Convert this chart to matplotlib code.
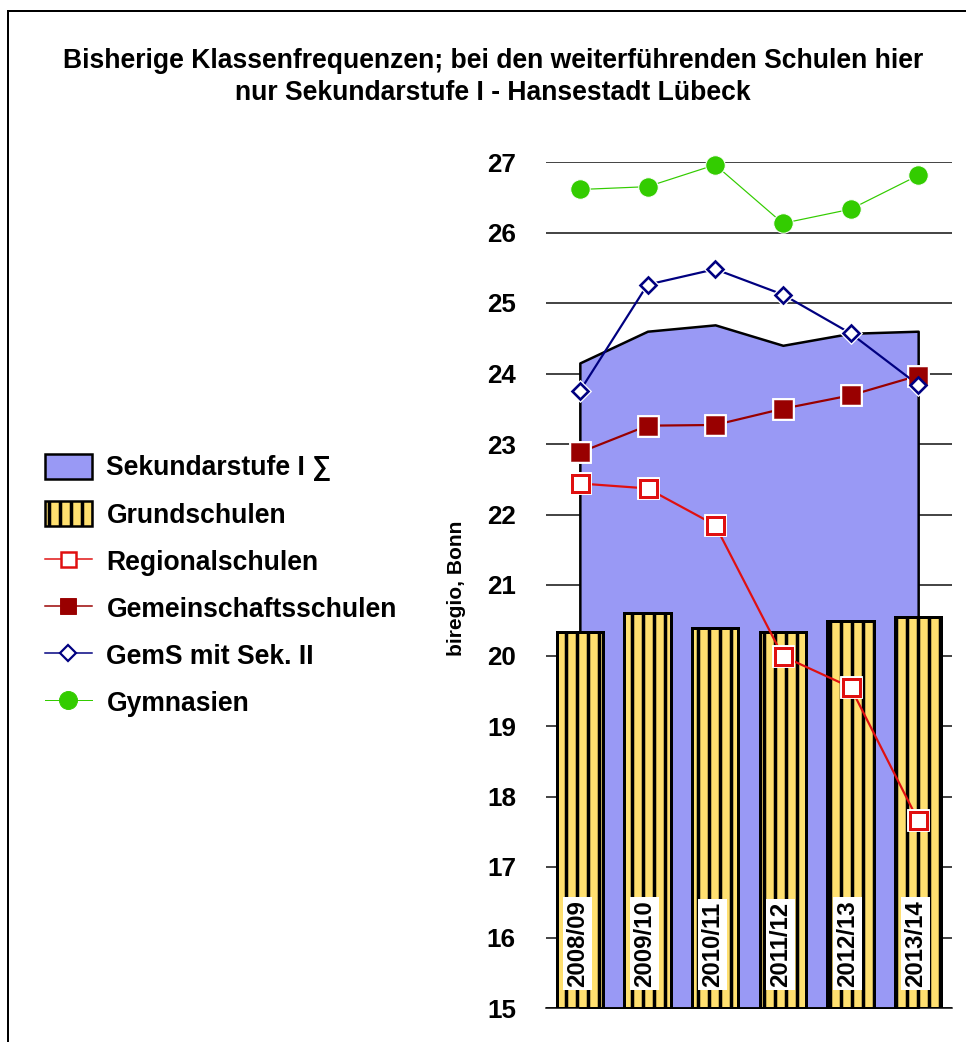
#!/usr/bin/env python

import matplotlib

matplotlib.use("Agg")
import matplotlib.pyplot as plt
from matplotlib.lines import Line2D
from matplotlib.patches import Patch, Rectangle

# school years and class sizes (pupils per class)
years = ["2008/09", "2009/10", "2010/11", "2011/12", "2012/13", "2013/14"]
sekundarstufe = [24.15, 24.60, 24.69, 24.40, 24.57, 24.60]
grundschulen = [20.34, 20.60, 20.39, 20.33, 20.49, 20.54]
regionalschulen = [22.44, 22.37, 21.85, 19.99, 19.55, 17.66]
gemeinschaftsschulen = [22.88, 23.26, 23.27, 23.50, 23.69, 23.97]
gems_sek2 = [23.75, 25.26, 25.48, 25.12, 24.57, 23.84]
gymnasien = [26.61, 26.65, 26.96, 26.13, 26.33, 26.81]
y_ticks = list(range(15, 28))

# rendering at 66 dpi so that the '|' hatch gets the 11 px stripe pitch
DPI = 66
W, H = 966, 1042


def px(v: float) -> float:
    """Pixel size -> points at the chosen dpi."""
    return v * 72 / DPI


FONT = ["Liberation Sans", "DejaVu Sans"]
plt.rcParams["font.family"] = FONT
plt.rcParams["font.weight"] = "bold"
plt.rcParams["hatch.linewidth"] = px(3.5)

AREA = "#9999F5"
YELLOW = "#FFE070"
RED = "#E01010"
DARKRED = "#990000"
NAVY = "#000080"
GREEN = "#33CC00"

fig = plt.figure(figsize=(W / DPI, H / DPI), dpi=DPI)
ax = fig.add_axes([546 / W, 34 / H, 406 / W, 846 / H])
x = list(range(len(years)))

ax.fill_between(x, 15, sekundarstufe, facecolor=AREA, edgecolor="black",
                linewidth=px(2.5), zorder=2)
ax.bar(x, [g - 15 for g in grundschulen], bottom=15, width=0.68,
       facecolor=YELLOW, edgecolor="black", hatch="|", linewidth=px(3), zorder=3)

for i, lab in enumerate(years):
    ax.text(i - 0.04, 15.3, lab, rotation=90, ha="center", va="bottom",
            fontsize=px(24), fontweight="bold", zorder=4,
            bbox=dict(facecolor="white", edgecolor="none", pad=px(3)))


def series(vals, color, lw, marker, ms, face, edge, mew, halo):
    ax.plot(x, vals, color=color, linewidth=px(lw), zorder=5, clip_on=False)
    if halo:
        ax.plot(x, vals, linestyle="none", marker=marker, markersize=px(ms + halo),
                markerfacecolor="white", markeredgecolor="white", zorder=5,
                clip_on=False)
    ax.plot(x, vals, linestyle="none", marker=marker, markersize=px(ms),
            markerfacecolor=face, markeredgecolor=edge, markeredgewidth=px(mew),
            zorder=6, clip_on=False)


series(regionalschulen, RED, 2.2, "s", 17, "white", RED, 3, 5)
series(gemeinschaftsschulen, DARKRED, 2.2, "s", 18, DARKRED, DARKRED, 0.5, 4)
series(gems_sek2, NAVY, 2.2, "D", 11.5, "white", NAVY, 2.6, 4)
series(gymnasien, GREEN, 1.2, "o", 19.5, GREEN, "white", 1, 0)

ax.set_xlim(-0.5, len(years) - 0.5)
ax.set_ylim(15, 27)
ax.set_yticks(y_ticks)
ax.set_xticks([])
ax.tick_params(axis="y", length=0, pad=px(30), labelsize=px(26))
for t in ax.get_yticklabels():
    t.set_fontweight("bold")
ax.yaxis.grid(True, color="#333333", linewidth=px(1.8), zorder=0)
ax.set_axisbelow(True)
for side in ["left", "right", "top"]:
    ax.spines[side].set_visible(False)
ax.spines["bottom"].set_linewidth(px(1.5))
ax.spines["bottom"].set_zorder(7)

fig.text(457 / W, 1 - 588 / H, "biregio, Bonn", rotation=90, ha="center",
         va="center", fontsize=px(21), fontweight="bold",
         family=["Liberation Sans Narrow", "Liberation Sans", "DejaVu Sans"])

fig.text(493 / W, 1 - 77 / H,
         "Bisherige Klassenfrequenzen; bei den weiterführenden Schulen hier\n"
         "nur Sekundarstufe I - Hansestadt Lübeck",
         ha="center", va="center", fontsize=px(26.5), fontweight="bold",
         linespacing=1.27)

handles = [
    Patch(facecolor=AREA, edgecolor="black", linewidth=px(2.5)),
    Patch(facecolor=YELLOW, edgecolor="black", hatch="|", linewidth=px(2.5)),
    Line2D([], [], color=RED, linewidth=px(1.5), marker="s", markersize=px(15),
           markerfacecolor="white", markeredgecolor=RED, markeredgewidth=px(2.5)),
    Line2D([], [], color=DARKRED, linewidth=px(1.5), marker="s", markersize=px(16),
           markerfacecolor=DARKRED, markeredgecolor=DARKRED),
    Line2D([], [], color=NAVY, linewidth=px(1.5), marker="D", markersize=px(11),
           markerfacecolor="white", markeredgecolor=NAVY, markeredgewidth=px(2.2)),
    Line2D([], [], color=GREEN, linewidth=px(1), marker="o", markersize=px(18),
           markerfacecolor=GREEN, markeredgecolor=GREEN),
]
labels = ["Sekundarstufe I \u2211", "Grundschulen", "Regionalschulen",
          "Gemeinschaftsschulen", "GemS mit Sek. II", "Gymnasien"]
fig.legend(handles, labels, loc="upper left", bbox_to_anchor=(45 / W, 1 - 454 / H),
           frameon=False, borderpad=0, borderaxespad=0,
           prop=dict(size=px(26.5), weight="bold"),
           handlelength=1.77, handleheight=1.06, handletextpad=0.55,
           labelspacing=0.745)

fig.add_artist(Rectangle((8 / W, -0.1), 1.2, 1.1 - 11 / H, transform=fig.transFigure,
                         fill=False, edgecolor="black", linewidth=px(2)))

fig.savefig("out.png", dpi=DPI)
